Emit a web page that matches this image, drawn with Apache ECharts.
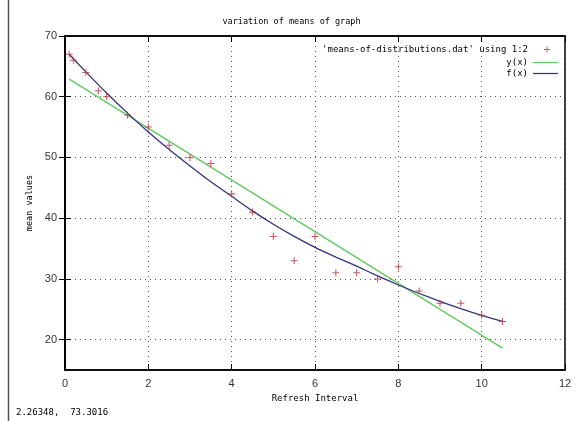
<!DOCTYPE html>
<html>
<head>
<meta charset="utf-8">
<script src="https://cdn.jsdelivr.net/npm/echarts@6/dist/echarts.min.js"></script>
<style>
html, body { margin: 0; padding: 0; background: #fff; }
#chart { width: 583px; height: 421px; }
</style>
</head>
<body>
<div id="chart"></div>
<script>
// measured points (+)
var pointX = [0.1, 0.2, 0.5, 0.8, 1, 1.5, 2, 2.5, 3, 3.5, 4, 4.5, 5, 5.5, 6, 6.5, 7, 7.5, 8, 8.5, 9, 9.5, 10, 10.5]
var pointY = [67, 66, 64, 61, 60, 57, 55, 52, 50, 49, 44, 41, 37, 33, 37, 31, 31, 30, 32, 28, 26, 26, 24, 23]
// y(x): straight line, end points
var lineX = [0.1, 10.5]
var lineY = [62.9, 18.6]
// f(x): fitted curve
var fitX = [0.1, 0.5, 1, 1.5, 2, 2.5, 3, 3.5, 4, 4.5, 5, 5.5, 6, 6.5, 7, 7.5, 8, 8.5, 9, 9.5, 10, 10.5]
var fitY = [67, 64.1, 60.6, 57.3, 54.2, 51.3, 48.6, 46.0, 43.6, 41.2, 39.0, 37.0, 35.2, 33.6, 32.1, 30.5, 29.0, 27.6, 26.3, 25.1, 24.0, 23.0]
var yTicks = [20, 30, 40, 50, 60, 70]

var dataName = "'means-of-distributions.dat' using 1:2"
var plus = 'path://M4,0h1.4v4h4v1.4h-4v4h-1.4v-4h-4v-1.4h4z'
var bar = 'path://M0,0h20v1h-20z'
var mono = 'DejaVu Sans Mono'

function pairs (xs, ys) {
  return xs.map(function (x, i) { return [x, ys[i]] })
}

var option = {
  backgroundColor: '#fff',
  animation: false,
  title: {
    text: 'variation of means of graph',
    left: 'center',
    top: 12,
    textStyle: { fontFamily: mono, fontSize: 8.5, fontWeight: 'normal', color: '#000' }
  },
  legend: [
    {
      data: [{ name: dataName, icon: plus }],
      right: 28, top: 40, align: 'right', orient: 'vertical',
      itemWidth: 6, itemHeight: 6,
      textStyle: { fontFamily: mono, fontSize: 9, color: '#000', padding: [0, 11, 0, 0] }
    },
    {
      data: [{ name: 'y(x)', icon: bar }],
      right: 20, top: 53, align: 'right', orient: 'vertical',
      itemWidth: 25, itemHeight: 1.5,
      textStyle: { fontFamily: mono, fontSize: 9, color: '#000' }
    },
    {
      data: [{ name: 'f(x)', icon: bar }],
      right: 20, top: 64, align: 'right', orient: 'vertical',
      itemWidth: 25, itemHeight: 1.5,
      textStyle: { fontFamily: mono, fontSize: 9, color: '#000' }
    }
  ],
  grid: { left: 65, right: 18, top: 36, bottom: 51, show: true, borderColor: '#000', borderWidth: 1.5 },
  xAxis: [
    {
      type: 'value', min: 0, max: 12, interval: 2,
      name: 'Refresh Interval', nameLocation: 'middle', nameGap: 24,
      nameTextStyle: { fontFamily: mono, fontSize: 9, color: '#000' },
      axisLine: { show: true, lineStyle: { color: '#000', width: 1.5 } },
      axisTick: { inside: true, length: 6, lineStyle: { color: '#000' } },
      axisLabel: { fontFamily: 'Liberation Sans', fontSize: 11, color: '#333', margin: 8 },
      splitLine: { show: true, lineStyle: { color: '#555', type: [1, 4], width: 1 } }
    },
    {
      type: 'value', min: 0, max: 12, interval: 2, position: 'top',
      axisLine: { show: true, lineStyle: { color: '#000', width: 1.5 } },
      axisTick: { inside: true, length: 6, lineStyle: { color: '#000' } },
      axisLabel: { show: false },
      splitLine: { show: false }
    }
  ],
  yAxis: [
    {
      type: 'value', min: 15, max: 70,
      name: 'mean values', nameLocation: 'middle', nameGap: 30,
      nameTextStyle: { fontFamily: mono, fontSize: 8.5, color: '#000' },
      axisLine: { show: true, lineStyle: { color: '#000', width: 1.5 } },
      axisTick: { inside: true, length: 6, customValues: yTicks, lineStyle: { color: '#000' } },
      axisLabel: { fontFamily: 'Liberation Sans', fontSize: 11, color: '#333', margin: 8, customValues: yTicks },
      splitLine: { show: true, lineStyle: { color: '#555', type: [1, 4], width: 1 } }
    },
    {
      type: 'value', min: 15, max: 70, position: 'right',
      axisLine: { show: true, lineStyle: { color: '#000', width: 1.5 } },
      axisTick: { inside: true, length: 6, customValues: yTicks, lineStyle: { color: '#000' } },
      axisLabel: { show: false, customValues: yTicks },
      splitLine: { show: false }
    }
  ],
  series: [
    {
      name: dataName,
      type: 'scatter',
      symbol: plus,
      symbolSize: 7,
      itemStyle: { color: '#b8323a' },
      data: pairs(pointX, pointY),
      z: 3
    },
    {
      name: 'y(x)',
      type: 'line',
      symbol: 'none',
      lineStyle: { color: '#5fc95f', width: 1.3 },
      itemStyle: { color: '#5fc95f' },
      data: pairs(lineX, lineY)
    },
    {
      name: 'f(x)',
      type: 'line',
      symbol: 'none',
      smooth: 0.2,
      lineStyle: { color: '#34347e', width: 1.3 },
      itemStyle: { color: '#34347e' },
      data: pairs(fitX, fitY)
    }
  ],
  graphic: [
    {
      type: 'line',
      shape: { x1: 8.5, y1: 0, x2: 8.5, y2: 421 },
      style: { stroke: '#555', lineWidth: 1.5 }
    },
    {
      type: 'text',
      left: 16, top: 408,
      style: { text: '2.26348,  73.3016', font: '9px "DejaVu Sans Mono"', fill: '#000' }
    }
  ]
}

var myChart = echarts.init(document.getElementById('chart'), null, { renderer: 'canvas' })
myChart.setOption(option)
</script>
</body>
</html>
